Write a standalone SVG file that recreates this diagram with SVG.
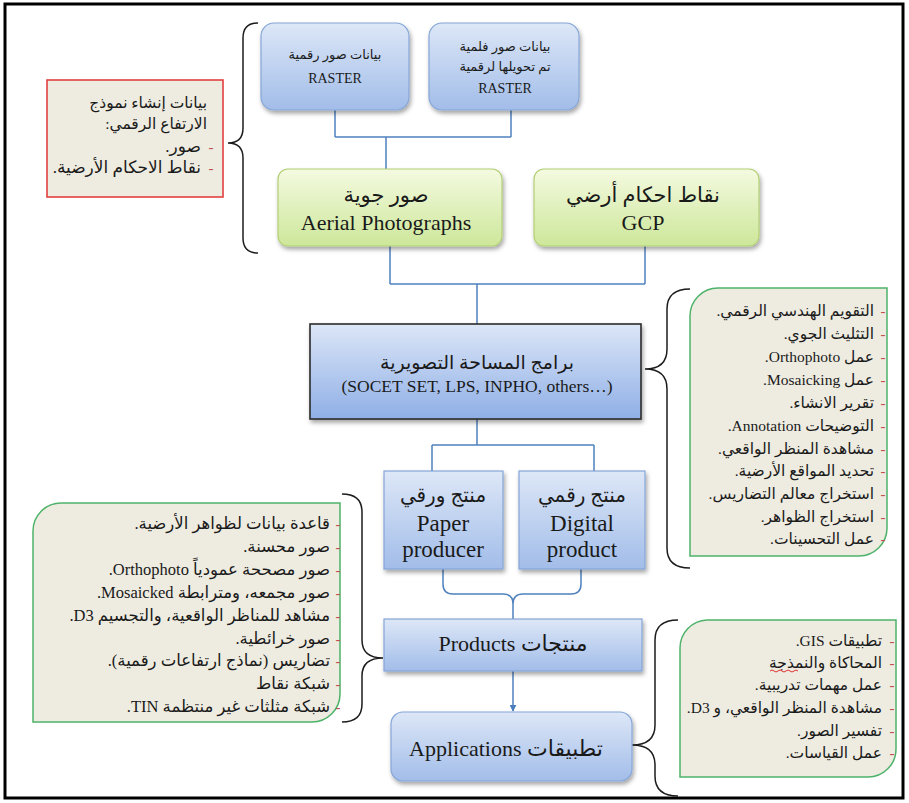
<svg xmlns="http://www.w3.org/2000/svg" width="909" height="803" viewBox="0 0 909 803">
<defs>
<linearGradient id="gBlue" x1="0" y1="0" x2="0" y2="1"><stop offset="0" stop-color="#DDE7F7"/><stop offset="1" stop-color="#A2BDE9"/></linearGradient>
<linearGradient id="gCentral" x1="0" y1="0" x2="0" y2="1"><stop offset="0" stop-color="#DCE6F7"/><stop offset="1" stop-color="#8FAFE6"/></linearGradient>
<linearGradient id="gGreen" x1="0" y1="0" x2="0" y2="1"><stop offset="0" stop-color="#F4FAE0"/><stop offset="1" stop-color="#CDE79A"/></linearGradient>
<filter id="sh" x="-10%" y="-10%" width="125%" height="135%"><feDropShadow dx="1.5" dy="3" stdDeviation="2" flood-color="#000" flood-opacity="0.35"/></filter>
<marker id="arr" viewBox="0 0 10 10" refX="9" refY="5" markerWidth="7" markerHeight="7" orient="auto" markerUnits="userSpaceOnUse"><path d="M0 0 L10 5 L0 10 Z" fill="#4A7CC0"/></marker>
<style>
.bb{fill:url(#gBlue);stroke:#86A6D8;stroke-width:1.2}
.gb{fill:url(#gGreen);stroke:#B3CF74;stroke-width:1.2}
.cb{fill:url(#gCentral);stroke:#2A2A2A;stroke-width:1.6}
.lst{fill:#EEECE1;stroke:#4DB36A;stroke-width:1.5}
.red{fill:#EEECE1;stroke:#E2403F;stroke-width:1.6}
.conn{fill:none;stroke:#4F81BD;stroke-width:1.5}
.brace{fill:none;stroke:#1C1C1C;stroke-width:1.5}
text{font-family:"Liberation Serif","DejaVu Sans",serif;fill:#1A1A1A}
.c{text-anchor:middle}
.r{direction:rtl;text-anchor:start}
.dash{fill:#C0504D;font-size:15px;text-anchor:middle}
.li{font-size:15.5px}
</style>
</defs>
<rect x="5" y="4" width="898" height="794" fill="#FFFFFF" stroke="#000" stroke-width="3"/>

<g id="connectors">
<path class="conn" d="M335 110 V137 M511 110 V137 M335 137 H511 M386 137 V169"/>
<path class="conn" d="M390 246 V284 M645 246 V284 M390 284 H645 M477 284 V324"/>
<path class="conn" d="M477 419 V445 M432 445 H594 M432 445 V471 M594 445 V471"/>
<path class="conn" d="M443 569 V584 Q443 594 453 594 H503 Q513 594 513 604 V619 M581 569 V584 Q581 594 571 594 H523 Q513 594 513 604"/>
<path class="conn" d="M513 671 V711" marker-end="url(#arr)"/>
<path class="brace" d="M258 23 Q243 23 243 38 V128 Q243 143 228 143 Q243 143 243 158 V238 Q243 253 258 253"/>
<path class="brace" d="M690 289 Q667 289 667 309 V349 Q667 369 645 369 Q667 369 667 389 V548 Q667 568 690 568"/>
<path class="brace" d="M342 494 Q362 494 362 512 V640 Q362 658 383 658 Q362 658 362 676 V704 Q362 722 342 722"/>
<path class="brace" d="M678 620 Q655 620 655 640 V725 Q655 745 632 745 Q655 745 655 765 V776 Q655 796 678 796"/>
</g>

<g id="n-dem-data">
<rect class="red" x="47" y="80" width="176" height="117"/>
<text class="r" x="207" y="108" font-size="15.5">بيانات إنشاء نموذج</text>
<text class="r" x="207" y="129" font-size="15.5">الارتفاع الرقمي:</text>
<text class="dash" x="211" y="152">-</text>
<text class="r" x="201" y="152" font-size="17">صور.</text>
<text class="dash" x="211" y="173">-</text>
<text class="r" x="201" y="173" font-size="17">نقاط الاحكام الأرضية.</text>
</g>

<g id="n-digital-raster">
<rect class="bb" x="261" y="23" width="148" height="87" rx="13" filter="url(#sh)"/>
<text class="c" x="335" y="59" font-size="13">بيانات صور رقمية</text>
<text class="c" x="335" y="83" font-size="14">RASTER</text>
</g>
<g id="n-film-raster">
<rect class="bb" x="429" y="23" width="150" height="87" rx="13" filter="url(#sh)"/>
<text class="c" x="505" y="51" font-size="13">بيانات صور فلمية</text>
<text class="c" x="505" y="71" font-size="13">تم تحويلها لرقمية</text>
<text class="c" x="505" y="93" font-size="14">RASTER</text>
</g>

<g id="n-aerial">
<rect class="gb" x="278" y="169" width="224" height="77" rx="10" filter="url(#sh)"/>
<text class="c" x="386" y="202" font-size="21">صور جوية</text>
<text class="c" x="386" y="230" font-size="22">Aerial Photographs</text>
</g>
<g id="n-gcp">
<rect class="gb" x="534" y="169" width="225" height="77" rx="10" filter="url(#sh)"/>
<text class="c" x="643" y="202" font-size="21">نقاط احكام أرضي</text>
<text class="c" x="643" y="230" font-size="22">GCP</text>
</g>

<g id="n-software">
<rect class="cb" x="310" y="324" width="331" height="95" filter="url(#sh)"/>
<text class="c" x="477" y="369" font-size="19">برامج المساحة التصويرية</text>
<text class="c" x="477" y="392" font-size="17.5">(SOCET SET, LPS, INPHO, others…)</text>
</g>

<g id="n-ops-list">
<path class="lst" d="M718 288 H887 V528 A28 28 0 0 1 859 556 H690 V316 A28 28 0 0 1 718 288 Z"/>
<g class="li">
<text class="r" x="874" y="316">التقويم الهندسي الرقمي.</text>
<text class="r" x="874" y="339">التثليث الجوي.</text>
<text class="r" x="874" y="362">عمل Orthophoto.</text>
<text class="r" x="874" y="385">عمل Mosaicking.</text>
<text class="r" x="874" y="408">تقرير الانشاء.</text>
<text class="r" x="874" y="431">التوضيحات Annotation.</text>
<text class="r" x="874" y="454">مشاهدة المنظر الواقعي.</text>
<text class="r" x="874" y="476">تحديد المواقع الأرضية.</text>
<text class="r" x="874" y="499">استخراج معالم التضاريس.</text>
<text class="r" x="874" y="522">استخراج الظواهر.</text>
<text class="r" x="874" y="544">عمل التحسينات.</text>
</g>
<g>
<text class="dash" x="883" y="316">-</text><text class="dash" x="883" y="339">-</text><text class="dash" x="883" y="362">-</text><text class="dash" x="883" y="385">-</text><text class="dash" x="883" y="408">-</text><text class="dash" x="883" y="431">-</text><text class="dash" x="883" y="454">-</text><text class="dash" x="883" y="476">-</text><text class="dash" x="883" y="499">-</text><text class="dash" x="883" y="522">-</text><text class="dash" x="883" y="544">-</text>
</g>
</g>

<g id="n-paper">
<rect class="bb" x="384" y="471" width="119" height="98" filter="url(#sh)"/>
<text class="c" x="443" y="502" font-size="20">منتج ورقي</text>
<text class="c" x="443" y="531" font-size="23">Paper</text>
<text class="c" x="443" y="557" font-size="23">producer</text>
</g>
<g id="n-digital">
<rect class="bb" x="519" y="471" width="126" height="98" filter="url(#sh)"/>
<text class="c" x="582" y="502" font-size="20">منتج رقمي</text>
<text class="c" x="582" y="531" font-size="23">Digital</text>
<text class="c" x="582" y="557" font-size="23">product</text>
</g>

<g id="n-products-list">
<path class="lst" d="M61 503 H340 V694 A28 28 0 0 1 312 722 H33 V531 A28 28 0 0 1 61 503 Z"/>
<g class="li" style="font-size:16.5px">
<text class="r" x="330" y="529">قاعدة بيانات لظواهر الأرضية.</text>
<text class="r" x="330" y="552">صور محسنة.</text>
<text class="r" x="330" y="575">صور مصححة عمودياً Orthophoto.</text>
<text class="r" x="330" y="598">صور مجمعه، ومترابطة Mosaicked.</text>
<text class="r" x="330" y="621">مشاهد للمناظر الواقعية، والتجسيم D3.</text>
<text class="r" x="330" y="644">صور خرائطية.</text>
<text class="r" x="330" y="666">تضاريس (نماذج ارتفاعات رقمية).</text>
<text class="r" x="330" y="689">شبكة نقاط</text>
<text class="r" x="330" y="712">شبكة مثلثات غير منتظمة TIN.</text>
</g>
<g>
<text class="dash" x="338" y="529">-</text><text class="dash" x="338" y="552">-</text><text class="dash" x="338" y="575">-</text><text class="dash" x="338" y="598">-</text><text class="dash" x="338" y="621">-</text><text class="dash" x="338" y="644">-</text><text class="dash" x="338" y="666">-</text><text class="dash" x="338" y="689">-</text><text class="dash" x="338" y="712">-</text>
</g>
</g>

<g id="n-products">
<rect class="bb" x="384" y="619" width="258" height="52" filter="url(#sh)"/>
<text class="r" x="513" y="651" font-size="22" style="text-anchor:middle">منتجات Products</text>
</g>

<g id="n-applications">
<rect class="bb" x="391" y="712" width="241" height="69" rx="12" filter="url(#sh)"/>
<text class="r" x="506" y="756" font-size="22" style="text-anchor:middle">تطبيقات Applications</text>
</g>

<g id="n-apps-list">
<path class="lst" d="M707 620 H896 V749 A28 28 0 0 1 868 777 H680 V648 A28 28 0 0 1 707 620 Z"/>
<g class="li" style="font-size:15.5px">
<text class="r" x="882" y="646">تطبيقات GIS.</text>
<text class="r" x="882" y="668">المحاكاة والنمذجة</text>
<text class="r" x="882" y="690">عمل مهمات تدريبية.</text>
<text class="r" x="882" y="713">مشاهدة المنظر الواقعي، و D3.</text>
<text class="r" x="882" y="736">تفسير الصور.</text>
<text class="r" x="882" y="758">عمل القياسات.</text>
</g>
<path d="M770 671 q2 -2 4 0 t4 0 t4 0 t4 0 t4 0 t4 0 t4 0" fill="none" stroke="#E0302E" stroke-width="1"/>
<g>
<text class="dash" x="892" y="646">-</text><text class="dash" x="892" y="668">-</text><text class="dash" x="892" y="690">-</text><text class="dash" x="892" y="713">-</text><text class="dash" x="892" y="736">-</text><text class="dash" x="892" y="758">-</text>
</g>
</g>
</svg>
